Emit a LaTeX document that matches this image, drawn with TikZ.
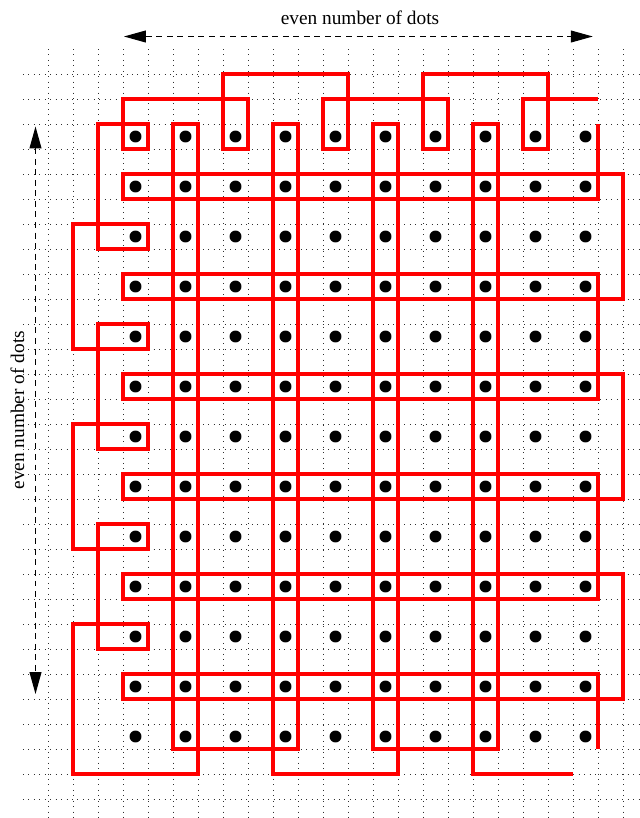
\documentclass[tikz,border=0pt]{standalone}
\usepackage{fontspec}
\setmainfont{Liberation Serif}
\usepackage{xcolor}
\definecolor{loopred}{HTML}{FF0000}
\definecolor{gridgray}{HTML}{303030}
\usepackage{tikz}
\usetikzlibrary{arrows.meta, calc}

\begin{document}
\begin{tikzpicture}[
  x=0.5cm, y=-0.5cm,
  every node/.style={font=\fontsize{11}{13}\selectfont},
  gridline/.style={gridgray, line width=0.5pt, dash pattern=on 0.5pt off 2.6pt},
  looppath/.style={loopred, line width=2pt, line join=miter},
  dotmark/.style={black},
  dimarr/.style={{Triangle[length=12.5pt, width=6.8pt]}-{Triangle[length=12.5pt, width=6.8pt]},
                 line width=0.6pt, dash pattern=on 3.4pt off 2.6pt},
  dimlabel/.style={inner sep=0pt}
]
  \useasboundingbox (-0.92,-1.96) rectangle (24.68,30.76);

  % dotted grid
  \foreach \r in {1,...,30}
    \draw[gridline] (0,\r) -- (24.68,\r);
  \foreach \c in {1,...,24}
    \draw[gridline] (\c,0) -- (\c,30.76);

  % top boxes, left zigzag and columns
  \draw[looppath] (23,2) -- (20,2) -- (20,4) -- (21,4) -- (21,1) -- (16,1)
    -- (16,4) -- (17,4) -- (17,2) -- (12,2) -- (12,4) -- (13,4) -- (13,1)
    -- (8,1) -- (8,4) -- (9,4) -- (9,2) -- (4,2) -- (4,4) -- (5,4) -- (5,3)
    -- (3,3) -- (3,8) -- (5,8) -- (5,7) -- (2,7) -- (2,12) -- (5,12) -- (5,11)
    -- (3,11) -- (3,16) -- (5,16) -- (5,15) -- (2,15) -- (2,20) -- (5,20)
    -- (5,19) -- (3,19) -- (3,24) -- (5,24) -- (5,23) -- (2,23) -- (2,29)
    -- (7,29) -- (7,3) -- (6,3) -- (6,28) -- (11,28) -- (11,3) -- (10,3)
    -- (10,29) -- (15,29) -- (15,3) -- (14,3) -- (14,28) -- (19,28) -- (19,3)
    -- (18,3) -- (18,29) -- (22,29);

  % rows
  \draw[looppath] (23,3) -- (23,6) -- (4,6) -- (4,5) -- (24,5) -- (24,10)
    -- (4,10) -- (4,9) -- (23,9) -- (23,14) -- (4,14) -- (4,13) -- (24,13)
    -- (24,18) -- (4,18) -- (4,17) -- (23,17) -- (23,22) -- (4,22) -- (4,21)
    -- (24,21) -- (24,26) -- (4,26) -- (4,25) -- (23,25) -- (23,28);

  % dots
  \foreach \i in {0,...,9}
    \foreach \j in {0,...,12}
      \fill[dotmark] ({4.5+2*\i},{3.5+2*\j}) circle[radius=3.4pt];

  % dimension arrows
  \coordinate (hleft) at (4.04,-0.5);
  \coordinate (hright) at (22.79,-0.5);
  \coordinate (vtop) at (0.5,3.1);
  \coordinate (vbot) at (0.5,25.8);
  \draw[dimarr] (hleft) -- (hright);
  \draw[dimarr] (vtop) -- (vbot);
  \node[dimlabel] (toplabel) at (13.48,-1.24) {even number of dots};
  \node[dimlabel, rotate=90] (sidelabel) at (-0.22,14.45) {even number of dots};
\end{tikzpicture}
\end{document}
